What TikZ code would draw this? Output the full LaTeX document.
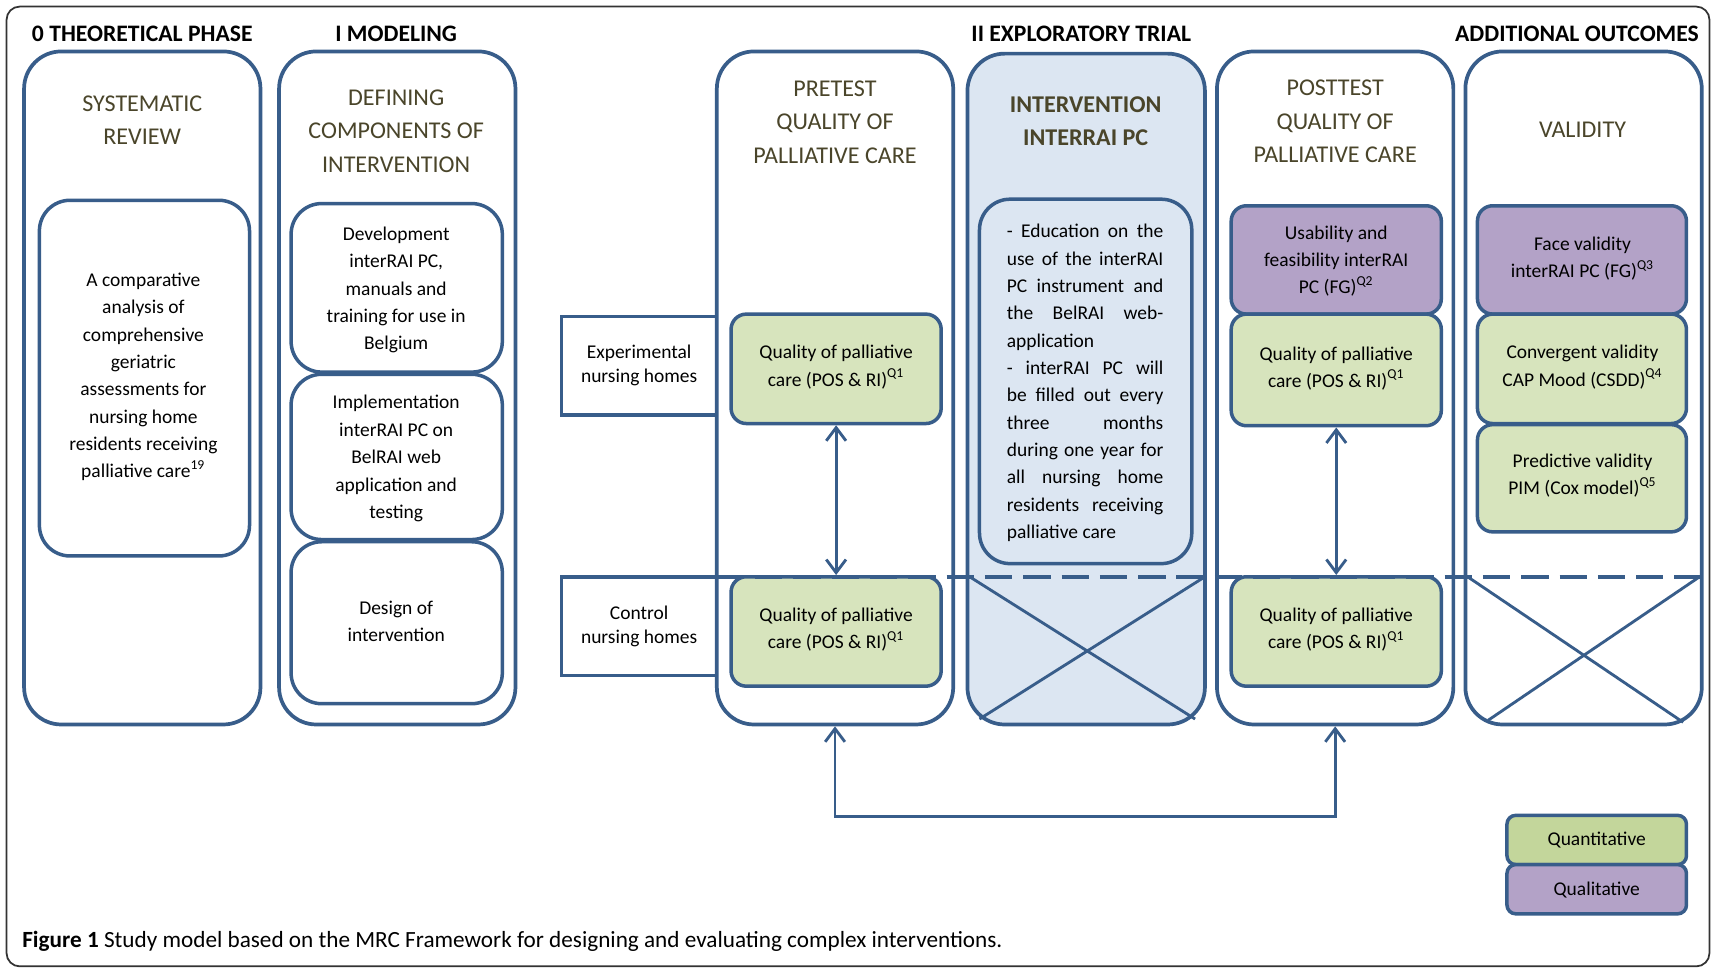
\documentclass[tikz,border=0pt]{standalone}
\usepackage{fontspec}
\setmainfont{Carlito}
\usetikzlibrary{arrows.meta}
\definecolor{bl}{HTML}{385D8A}
\definecolor{grn}{HTML}{D7E4BD}
\definecolor{prp}{HTML}{B3A2C7}
\definecolor{lgrn}{HTML}{C3D69B}
\definecolor{lblue}{HTML}{DCE6F2}
\definecolor{ttlc}{HTML}{4A452A}
\newcommand\bx[6]{\node[#1, minimum width={(#5-#3)*0.5pt}, minimum height={(#6-#4)*0.5pt}] (#2) at ({(#3+#5)/2},{(#4+#6)/2}) {};}
\newcommand\jl[1]{\makebox[71.5pt][s]{#1}}
\begin{document}
\begin{tikzpicture}[x=0.5pt,y=-0.5pt,
  frame/.style={draw=black!80, line width=0.8pt, rounded corners=6pt},
  colbox/.style={draw=bl, line width=1.7pt, rounded corners=17pt, inner sep=0pt, fill=white},
  inbox/.style={draw=bl, line width=1.6pt, rounded corners=14pt, inner sep=0pt, fill=white},
  qbox/.style={draw=bl, line width=1.6pt, rounded corners=7pt, inner sep=0pt, fill=grn},
  pbox/.style={draw=bl, line width=1.6pt, rounded corners=7pt, inner sep=0pt, fill=prp},
  sqbox/.style={draw=bl, line width=1.6pt, inner sep=0pt, fill=white},
  legq/.style={draw=bl, line width=1.6pt, rounded corners=4pt, inner sep=0pt, fill=lgrn},
  legp/.style={draw=bl, line width=1.6pt, rounded corners=4pt, inner sep=0pt, fill=prp},
  hdr/.style={font=\bfseries\fontsize{10.8}{13}\selectfont, inner sep=0pt},
  ttl/.style={text=ttlc, font=\fontsize{11}{15.3}\selectfont, align=center, inner sep=0pt},
  txt/.style={font=\fontsize{8.9}{12.5}\selectfont, align=center, inner sep=0pt},
  biarrow/.style={draw=bl, line width=1.3pt, {Straight Barb[length=6pt,width=9pt]}-{Straight Barb[length=6pt,width=9pt]}},
  xline/.style={draw=bl, line width=1.3pt},
  sepline/.style={draw=bl, line width=1.6pt, dash pattern=on 12.5pt off 5pt}
]
\useasboundingbox (0,0) rectangle (1568,884.5);
\draw[frame] (6,6) rectangle (1562,883);

% headers
\node[hdr] (h0) at (130,31) {0 THEORETICAL PHASE};
\node[hdr] (h1) at (362,31) {I MODELING};
\node[hdr] (h2) at (988,31) {II EXPLORATORY TRIAL};
\node[hdr] (h3) at (1441,31) {ADDITIONAL OUTCOMES};

% experimental / control boxes
\bx{sqbox}{exp}{513}{289}{655}{379}
\bx{sqbox}{ctl}{513}{527}{655}{617}

% columns
\bx{colbox}{c0}{22}{47}{238}{662}
\bx{colbox}{c1}{255}{47}{471}{662}
\bx{colbox}{pre}{655}{47}{871}{662}
\bx{colbox, fill=lblue}{intv}{884}{49}{1101}{662}
\bx{colbox}{post}{1112}{47}{1328}{662}
\bx{colbox}{val}{1339}{47}{1555}{662}

% titles
\node[ttl] (t0) at (130,110) {SYSTEMATIC\\REVIEW};
\node[ttl] (t1) at (362,119.5) {DEFINING\\COMPONENTS OF\\INTERVENTION};
\node[ttl] (t2) at (763,111.5) {PRETEST\\QUALITY OF\\PALLIATIVE CARE};
\node[ttl, font=\bfseries\fontsize{11}{15.3}\selectfont] (t3) at (992,110.5) {INTERVENTION\\INTERRAI PC};
\node[ttl] (t4) at (1220,111) {POSTTEST\\QUALITY OF\\PALLIATIVE CARE};
\node[ttl] (t5) at (1446,119) {VALIDITY};

% column 0
\bx{inbox}{sr}{36}{183}{228}{508}
\node[txt] (srt) at (131,344.5) {A comparative\\analysis of\\comprehensive\\geriatric\\assessments for\\nursing home\\residents receiving\\palliative care\textsuperscript{19}};

% column 1
\bx{inbox}{m1}{266}{186}{459}{340}
\bx{inbox}{m2}{266}{342}{459}{493}
\bx{inbox}{m3}{266}{495}{459}{643}
\node[txt] (m1t) at (362,265) {Development\\interRAI PC,\\manuals and\\training for use in\\Belgium};
\node[txt] (m2t) at (362,419) {Implementation\\interRAI PC on\\BelRAI web\\application and\\testing};
\node[txt] (m3t) at (362,567.5) {Design of\\intervention};

\node[txt, font=\fontsize{8.9}{11}\selectfont] (expt) at (584,334) {Experimental\\nursing homes};
\node[txt, font=\fontsize{8.9}{11}\selectfont] (ctlt) at (584,572) {Control\\nursing homes};

% pretest
\bx{qbox}{pre1}{668}{287}{860}{387}
\bx{qbox}{pre2}{668}{527}{860}{627}
\node[txt] (pre1t) at (764,335.5) {Quality of palliative\\care (POS \& RI)\textsuperscript{Q1}};
\node[txt] (pre2t) at (764,575.5) {Quality of palliative\\care (POS \& RI)\textsuperscript{Q1}};

% intervention
\bx{inbox, fill=lblue}{ib}{895}{182}{1089}{515}
\node[txt, align=left] (ibt) at (991.5,350) {\jl{- Education on the}\\\jl{use of the interRAI}\\\jl{PC instrument and}\\\jl{the BelRAI web-}\\\makebox[71.5pt][l]{application}\\\jl{- interRAI PC will}\\\jl{be filled out every}\\\jl{three months}\\\jl{during one year for}\\\jl{all nursing home}\\\jl{residents receiving}\\\makebox[71.5pt][l]{palliative care}};

% posttest
\bx{pbox}{post0}{1125}{188}{1317}{287}
\bx{qbox}{post1}{1125}{287}{1317}{389}
\bx{qbox}{post2}{1125}{527}{1317}{627}
\node[txt] (post0t) at (1221,238.5) {Usability and\\feasibility interRAI\\PC (FG)\textsuperscript{Q2}};
\node[txt] (post1t) at (1221,336.5) {Quality of palliative\\care (POS \& RI)\textsuperscript{Q1}};
\node[txt] (post2t) at (1221,575.5) {Quality of palliative\\care (POS \& RI)\textsuperscript{Q1}};

% validity
\bx{pbox}{v0}{1350}{188}{1541}{287}
\bx{qbox}{v1}{1350}{287}{1541}{387}
\bx{qbox}{v2}{1350}{388}{1541}{486}
\node[txt] (v0t) at (1446,236.5) {Face validity\\interRAI PC (FG)\textsuperscript{Q3}};
\node[txt] (v1t) at (1446,335.5) {Convergent validity\\CAP Mood (CSDD)\textsuperscript{Q4}};
\node[txt] (v2t) at (1446,434.5) {Predictive validity\\PIM (Cox model)\textsuperscript{Q5}};

% dashed separator and crosses
\draw[sepline] (655,527) -- (1555,527);
\draw[xline] (886,527) -- (1092,657);
\draw[xline] (1101,527) -- (895,657);
\draw[xline] (1341,527) -- (1538,660);
\draw[xline] (1553,527) -- (1360,658);

% arrows
\draw[biarrow] (pre1.south) -- (pre2.north);
\draw[biarrow] (post1.south) -- (post2.north);
\coordinate (low) at (765,746);
\draw[biarrow] (pre.south) -- (pre.south |- low) -| (post.south);

% legend
\bx{legq}{lq}{1377}{745}{1541}{790}
\bx{legp}{lp}{1377}{790}{1541}{835}
\node[txt] (lqt) at (1459,768) {Quantitative};
\node[txt] (lpt) at (1459,813) {Qualitative};

% caption
\node[anchor=west, inner sep=0pt, font=\fontsize{10.6}{12}\selectfont] (cap) at (20,860) {\textbf{Figure 1} Study model based on the MRC Framework for designing and evaluating complex interventions.};
\end{tikzpicture}
\end{document}
